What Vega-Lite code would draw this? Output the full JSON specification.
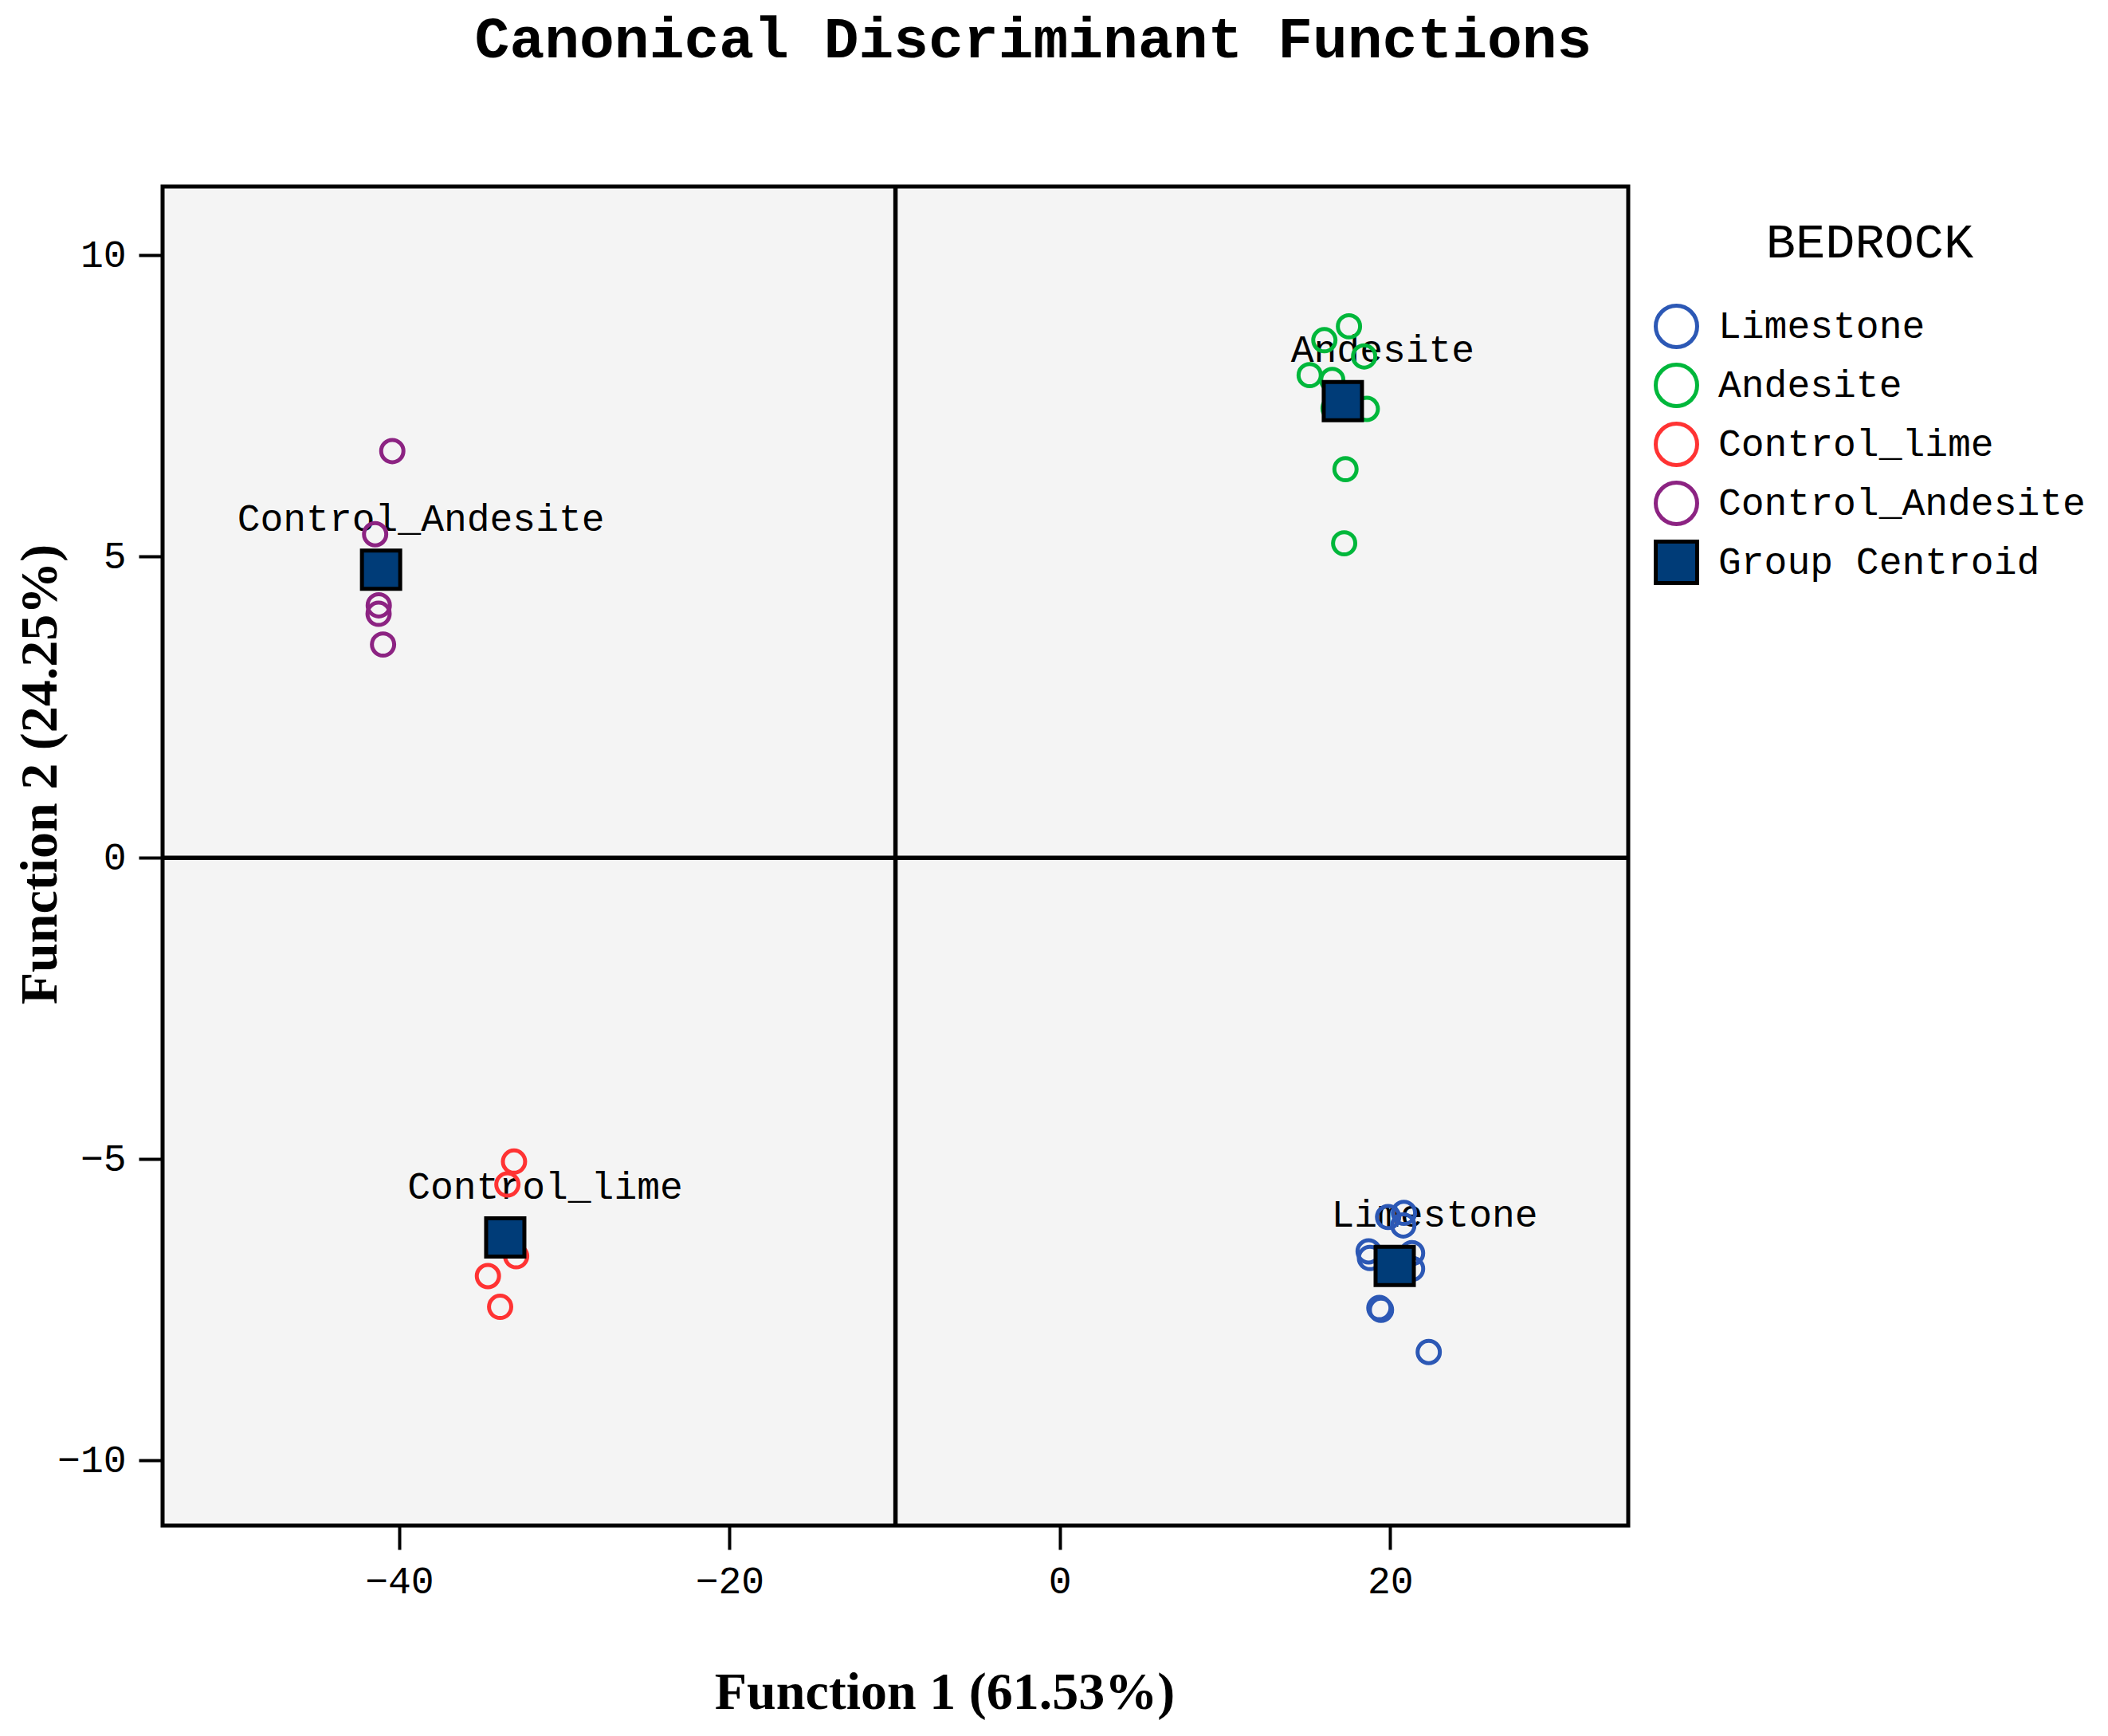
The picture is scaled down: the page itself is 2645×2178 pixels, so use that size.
{
  "$schema": "https://vega.github.io/schema/vega-lite/v6.json",
  "autosize": {"type": "none"},
  "width": 1839,
  "height": 1680,
  "padding": {"left": 204, "top": 234, "right": 602, "bottom": 264},
  "background": "white",
  "title": {
    "text": "Canonical Discriminant Functions",
    "font": "Liberation Mono",
    "fontWeight": "bold",
    "fontSize": 73,
    "color": "black",
    "anchor": "middle",
    "frame": "group",
    "baseline": "alphabetic",
    "offset": 86,
    "dx": 173
  },
  "datasets": {
    "cases": [
      {"f1": 17.51, "f2": 8.82, "legend": "Andesite"},
      {"f1": 16.02, "f2": 8.59, "legend": "Andesite"},
      {"f1": 18.43, "f2": 8.32, "legend": "Andesite"},
      {"f1": 15.13, "f2": 8.01, "legend": "Andesite"},
      {"f1": 16.50, "f2": 7.93, "legend": "Andesite"},
      {"f1": 18.59, "f2": 7.45, "legend": "Andesite"},
      {"f1": 16.58, "f2": 7.46, "legend": "Andesite"},
      {"f1": 17.30, "f2": 6.45, "legend": "Andesite"},
      {"f1": 17.22, "f2": 5.22, "legend": "Andesite"},
      {"f1": -40.42, "f2": 6.75, "legend": "Control_Andesite"},
      {"f1": -41.46, "f2": 5.37, "legend": "Control_Andesite"},
      {"f1": -41.24, "f2": 4.19, "legend": "Control_Andesite"},
      {"f1": -41.25, "f2": 4.05, "legend": "Control_Andesite"},
      {"f1": -40.98, "f2": 3.54, "legend": "Control_Andesite"},
      {"f1": -33.05, "f2": -5.04, "legend": "Control_lime"},
      {"f1": -33.45, "f2": -5.42, "legend": "Control_lime"},
      {"f1": -32.92, "f2": -6.61, "legend": "Control_lime"},
      {"f1": -34.63, "f2": -6.94, "legend": "Control_lime"},
      {"f1": -33.89, "f2": -7.45, "legend": "Control_lime"},
      {"f1": 20.84, "f2": -5.89, "legend": "Limestone"},
      {"f1": 19.88, "f2": -5.96, "legend": "Limestone"},
      {"f1": 20.80, "f2": -6.10, "legend": "Limestone"},
      {"f1": 18.70, "f2": -6.53, "legend": "Limestone"},
      {"f1": 18.78, "f2": -6.64, "legend": "Limestone"},
      {"f1": 21.33, "f2": -6.56, "legend": "Limestone"},
      {"f1": 21.33, "f2": -6.82, "legend": "Limestone"},
      {"f1": 19.35, "f2": -7.47, "legend": "Limestone"},
      {"f1": 19.45, "f2": -7.50, "legend": "Limestone"},
      {"f1": 22.34, "f2": -8.20, "legend": "Limestone"}
    ],
    "centroids": [
      {"f1": 17.14, "f2": 7.58, "group": "Andesite", "legend": "Group Centroid"},
      {"f1": -41.10, "f2": 4.78, "group": "Control_Andesite", "legend": "Group Centroid"},
      {"f1": -33.58, "f2": -6.30, "group": "Control_lime", "legend": "Group Centroid"},
      {"f1": 20.28, "f2": -6.77, "group": "Limestone", "legend": "Group Centroid"}
    ]
  },
  "encoding": {
    "x": {
      "field": "f1", "type": "quantitative",
      "scale": {"domain": [-54.33, 34.42], "nice": false, "zero": false},
      "axis": {
        "title": "Function 1 (61.53%)",
        "values": [-40, -20, 0, 20],
        "titleX": 981, "titleY": 229, "titleBaseline": "alphabetic", "titleAlign": "center", "titleAnchor": null
      }
    },
    "y": {
      "field": "f2", "type": "quantitative",
      "scale": {"domain": [-11.08, 11.14], "nice": false, "zero": false},
      "axis": {
        "title": "Function 2 (24.25%)",
        "values": [-10, -5, 0, 5, 10],
        "titleX": -134, "titleY": 737, "titleAngle": -90, "titleBaseline": "alphabetic", "titleAlign": "center", "titleAnchor": null
      }
    }
  },
  "layer": [
    {
      "data": {"values": [{"v": -9.95}]},
      "mark": {"type": "rule", "color": "black", "strokeWidth": 5.5},
      "encoding": {"x": {"field": "v", "type": "quantitative"}, "y": null}
    },
    {
      "data": {"values": [{"v": 0}]},
      "mark": {"type": "rule", "color": "black", "strokeWidth": 5.5},
      "encoding": {"y": {"field": "v", "type": "quantitative"}, "x": null}
    },
    {
      "data": {"name": "centroids"},
      "mark": {"type": "text", "font": "Liberation Mono", "fontSize": 48, "color": "black", "align": "center", "baseline": "alphabetic", "dx": 50, "dy": -49},
      "encoding": {"text": {"field": "group"}}
    },
    {
      "data": {"name": "cases"},
      "mark": {"type": "point", "size": 780, "strokeWidth": 5, "opacity": 1},
      "encoding": {
        "stroke": {"field": "legend", "type": "nominal", "title": "BEDROCK",
          "scale": {"domain": ["Limestone", "Andesite", "Control_lime", "Control_Andesite", "Group Centroid"],
                    "range": ["#2c58b5", "#00b73b", "#ff3333", "#8c2382", "black"]}},
        "fill": {"field": "legend", "type": "nominal", "title": "BEDROCK",
          "scale": {"domain": ["Limestone", "Andesite", "Control_lime", "Control_Andesite", "Group Centroid"],
                    "range": ["transparent", "transparent", "transparent", "transparent", "#003c78"]}},
        "shape": {"field": "legend", "type": "nominal", "title": "BEDROCK",
          "scale": {"domain": ["Limestone", "Andesite", "Control_lime", "Control_Andesite", "Group Centroid"],
                    "range": ["circle", "circle", "circle", "circle", "square"]}}
      }
    },
    {
      "data": {"name": "centroids"},
      "mark": {"type": "point", "size": 2304, "strokeWidth": 5, "opacity": 1},
      "encoding": {
        "stroke": {"field": "legend", "type": "nominal", "title": "BEDROCK"},
        "fill": {"field": "legend", "type": "nominal", "title": "BEDROCK"},
        "shape": {"field": "legend", "type": "nominal", "title": "BEDROCK"}
      }
    }
  ],
  "config": {
    "view": {"stroke": "black", "strokeWidth": 5, "fill": "#f4f4f4"},
    "axis": {
      "domain": false,
      "grid": false,
      "ticks": true,
      "tickSize": 30,
      "tickWidth": 4,
      "tickColor": "black",
      "labelFont": "Liberation Mono",
      "labelFontSize": 48,
      "labelColor": "black",
      "labelPadding": 16,
      "titleFont": "Liberation Serif",
      "titleFontWeight": "bold",
      "titleFontSize": 66,
      "titleColor": "black"
    },
    "legend": {
      "orient": "none",
      "legendX": 1871,
      "legendY": 40,
      "padding": 0,
      "titleFont": "Liberation Mono",
      "titleFontWeight": "normal",
      "titleFontSize": 62,
      "titleColor": "black",
      "titleAnchor": "middle",
      "titlePadding": 45,
      "titleLimit": 0,
      "labelFont": "Liberation Mono",
      "labelFontSize": 48,
      "labelColor": "black",
      "labelOffset": 24,
      "symbolSize": 2700,
      "symbolStrokeWidth": 5,
      "symbolOpacity": 1,
      "rowPadding": 1,
      "labelLimit": 0
    }
  }
}
